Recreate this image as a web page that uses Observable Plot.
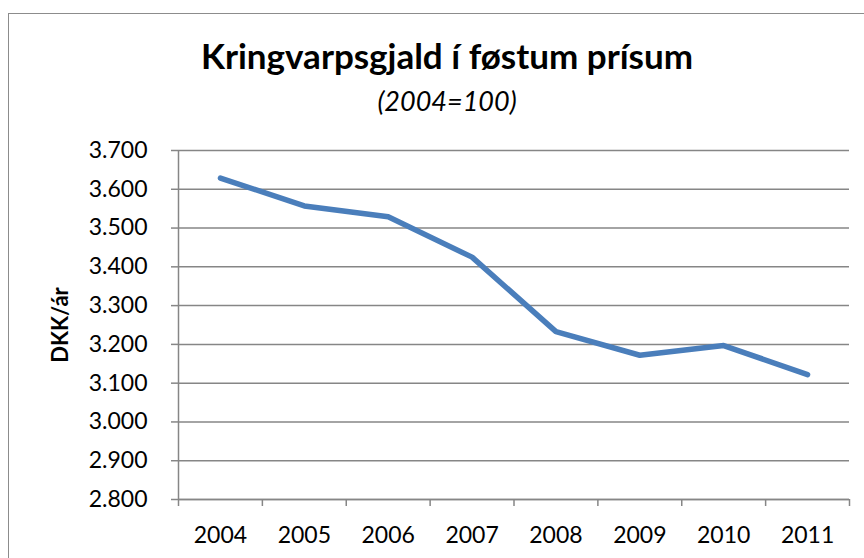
<!DOCTYPE html>
<html>
<head>
<meta charset="utf-8">
<script src="https://cdn.jsdelivr.net/npm/d3@7"></script>
<script src="https://cdn.jsdelivr.net/npm/@observablehq/plot@0.6"></script>
<style>
  html, body { margin: 0; padding: 0; background: #fff; }
  #wrap { position: relative; width: 864px; height: 558px; overflow: hidden; font-family: Lato, "Open Sans", sans-serif; color: #000; }
  #frame { position: absolute; left: 8px; top: 13px; width: 900px; height: 600px; border: 1.5px solid #8c8c8c; box-sizing: border-box; }
  #title { position: absolute; left: 0; width: 894px; top: 38px; text-align: center; font-weight: bold; font-size: 35px; line-height: 35px; white-space: nowrap; }
  #subtitle { position: absolute; left: 0; width: 894px; top: 87px; text-align: center; font-style: italic; font-size: 27px; line-height: 27px; white-space: nowrap; }
  #chart { position: absolute; left: 0; top: 0; }
</style>
</head>
<body>
<div id="wrap">
  <div id="frame"></div>
  <div id="title">Kringvarpsgjald í føstum prísum</div>
  <div id="subtitle">(2004=100)</div>
  <div id="chart"></div>
</div>
<script>
const years = [2004, 2005, 2006, 2007, 2008, 2009, 2010, 2011];
const values = [3629, 3557, 3529, 3425, 3233, 3172, 3197, 3122];
const yTicks = [2800, 2900, 3000, 3100, 3200, 3300, 3400, 3500, 3600, 3700];
const yLabel = "DKK/ár";

const data = years.map((year, i) => ({year, value: values[i]}));
const boundaries = years.map(y => y - 0.5).concat([years[years.length - 1] + 0.5]);
const fmt = d => d3.format(",")(d).replace(",", ".");
const grey = "#868686";

const chart = Plot.plot({
  width: 864,
  height: 558,
  marginLeft: 178,
  marginRight: 15,
  marginTop: 150,
  marginBottom: 59,
  style: {fontFamily: "Lato, 'Open Sans', sans-serif", fontSize: "23px", color: "#000", background: "transparent", overflow: "visible"},
  x: {type: "linear", domain: [years[0] - 0.5, years[years.length - 1] + 0.5]},
  y: {domain: [yTicks[0], yTicks[yTicks.length - 1]]},
  marks: [
    Plot.gridY(yTicks, {stroke: grey, strokeOpacity: 1, strokeWidth: 1.5}),
    Plot.ruleX([boundaries[0]], {stroke: grey, strokeWidth: 1.5}),
    Plot.ruleY([yTicks[0]], {stroke: grey, strokeWidth: 1.5}),
    Plot.axisY(yTicks, {tickSize: 7, tickPadding: 24, tickFormat: fmt, stroke: grey, strokeWidth: 1.5, fill: "#000", label: null, fontSize: 23}),
    Plot.axisX(boundaries, {tickSize: 7, tickFormat: () => "", stroke: grey, strokeWidth: 1.5, label: null}),
    Plot.axisX(years, {tickSize: 0, tickPadding: 27, tickFormat: d => String(d), fill: "#000", label: null, fontSize: 23}),
    Plot.line(data, {x: "year", y: "value", stroke: "#4A7EBB", strokeWidth: 5.5, strokeLinecap: "round", strokeLinejoin: "round"}),
    Plot.text([yLabel], {text: d => d, frameAnchor: "left", dx: -118, rotate: -90, textAnchor: "middle", fontWeight: "bold", fontSize: 22, fill: "#000"})
  ]
});
document.getElementById("chart").appendChild(chart);
</script>
</body>
</html>
